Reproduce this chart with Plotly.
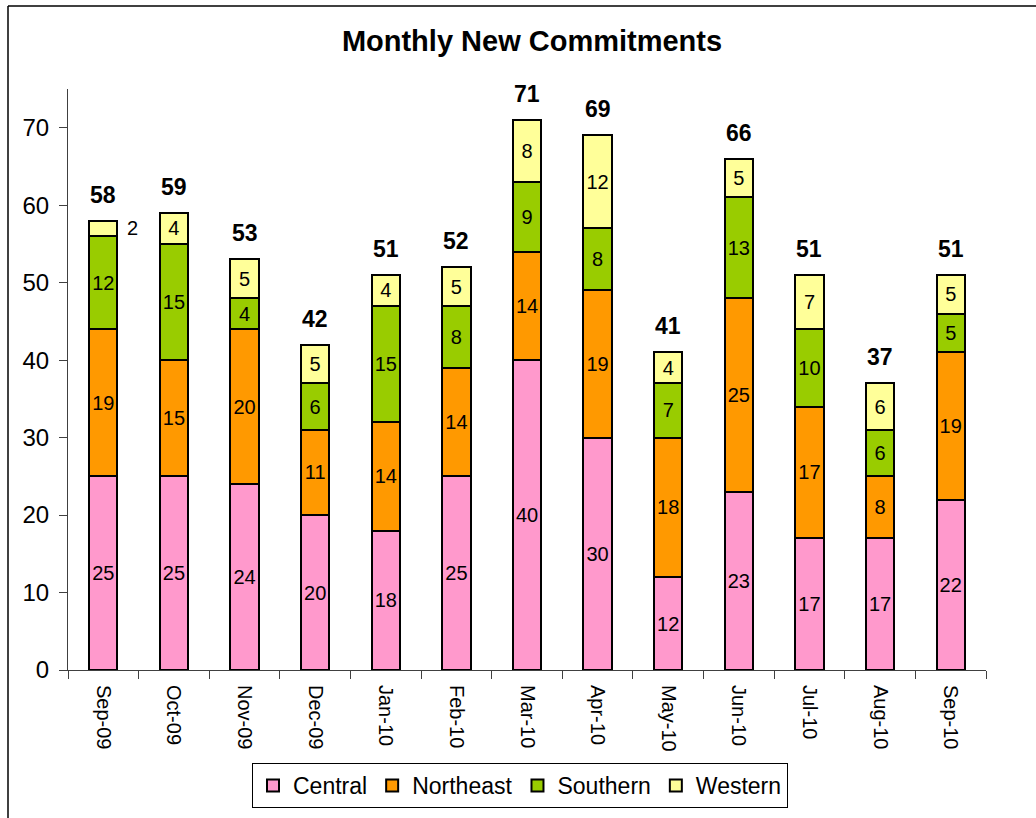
import plotly.graph_objects as go

months = ["Sep-09", "Oct-09", "Nov-09", "Dec-09", "Jan-10", "Feb-10", "Mar-10",
          "Apr-10", "May-10", "Jun-10", "Jul-10", "Aug-10", "Sep-10"]
central = [25, 25, 24, 20, 18, 25, 40, 30, 12, 23, 17, 17, 22]
northeast = [19, 15, 20, 11, 14, 14, 14, 19, 18, 25, 17, 8, 19]
southern = [12, 15, 4, 6, 15, 8, 9, 8, 7, 13, 10, 6, 5]
western = [2, 4, 5, 5, 4, 5, 8, 12, 4, 5, 7, 6, 5]
totals = [58, 59, 53, 42, 51, 52, 71, 69, 41, 66, 51, 37, 51]

series = [
    ("Central", central, "#FF99CC"),
    ("Northeast", northeast, "#FF9900"),
    ("Southern", southern, "#99CC00"),
    ("Western", western, "#FFFF99"),
]

FONT = "Liberation Sans, Arial, sans-serif"

# plot area in page pixels
W, H = 1036, 818
L, R, T, B = 68, 986, 89, 670

fig = go.Figure()
for name, vals, color in series:
    texts = [str(v) for v in vals]
    if name == "Western":
        texts[0] = ""  # drawn outside as an annotation
    fig.add_trace(go.Bar(
        name=name, x=months, y=vals, marker=dict(color=color, line=dict(color="black", width=2)),
        text=texts, textposition="inside", insidetextanchor="middle", textangle=0,
        textfont=dict(family=FONT, size=20, color="black"),
        constraintext="none", hoverinfo="x+y+name",
    ))

annotations = []
for m, t in zip(months, totals):
    annotations.append(dict(x=m, y=t, text=f"<b>{t}</b>", showarrow=False, xref="x", yref="y",
                            yanchor="bottom", yshift=11, font=dict(family=FONT, size=23, color="black")))
# small Western label for Sep-09 outside the bar
annotations.append(dict(x=months[0], y=central[0] + northeast[0] + southern[0] + western[0] / 2,
                        text=str(western[0]), showarrow=False, xref="x", yref="y",
                        xshift=29, font=dict(family=FONT, size=20, color="black")))

pw, ph = R - L, B - T
def px(xp):
    return (xp - L) / pw
def py(yp):
    return (B - yp) / ph

shapes = [
    dict(type="line", xref="paper", yref="paper", x0=px(8), x1=px(8), y0=py(6), y1=py(830),
         line=dict(color="black", width=1.5)),
    dict(type="line", xref="paper", yref="paper", x0=px(8), x1=px(1040), y0=py(6), y1=py(6),
         line=dict(color="black", width=1.5)),
]

fig.update_layout(
    width=W, height=H,
    margin=dict(l=L, r=W - R, t=T, b=H - B, autoexpand=False),
    barmode="stack", bargap=0.6,
    uniformtext=dict(minsize=20, mode="show"),
    paper_bgcolor="white", plot_bgcolor="white",
    title=dict(text="<b>Monthly New Commitments</b>", x=532 / W, xanchor="center",
               y=1 - 41 / H, yanchor="middle", font=dict(family=FONT, size=29, color="black")),
    font=dict(family=FONT, color="black"),
    showlegend=True,
    legend=dict(orientation="h", x=px(520), xanchor="center", y=py(763), yanchor="top",
                font=dict(family=FONT, size=23, color="black"),
                bordercolor="black", borderwidth=1, bgcolor="white", traceorder="normal",
                itemwidth=30, tracegroupgap=0),
    annotations=annotations,
    shapes=shapes,
)
fig.update_xaxes(
    type="category", showline=True, linecolor="#404040", linewidth=1,
    ticks="outside", tickson="boundaries", ticklen=8, tickcolor="#404040",
    tickangle=90, tickfont=dict(family=FONT, size=20, color="black"),
    ticklabelstandoff=10,
    showgrid=False, zeroline=False, range=[-0.5, 12.5],
)
fig.update_yaxes(
    range=[0, 75], tickvals=[0, 10, 20, 30, 40, 50, 60, 70],
    showline=True, linecolor="#404040", linewidth=1,
    ticks="outside", ticklen=8, tickcolor="#404040",
    tickfont=dict(family=FONT, size=24, color="black"),
    ticklabelstandoff=5,
    showgrid=False, zeroline=False,
)

fig.write_html("out.html", config={"displayModeBar": False},
               post_script="document.body.style.margin='0';")
